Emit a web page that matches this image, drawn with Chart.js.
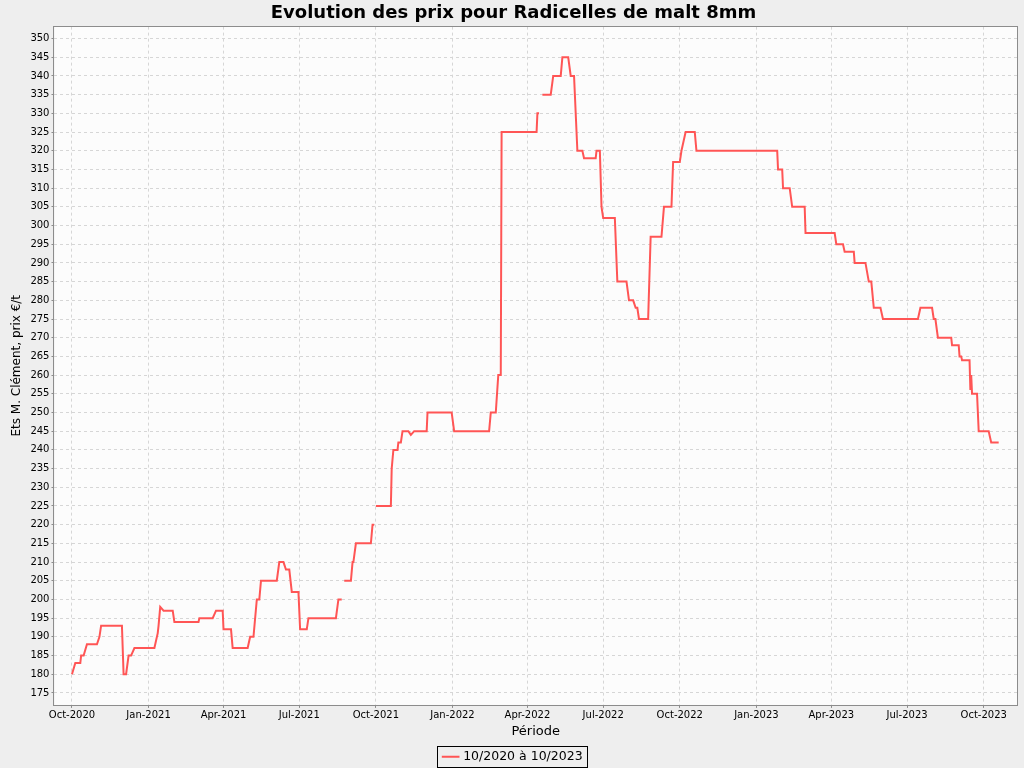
<!DOCTYPE html>
<html>
<head>
<meta charset="utf-8">
<script src="https://cdn.jsdelivr.net/npm/chart.js@4.4.1/dist/chart.umd.min.js"></script>
<style>
  html, body { margin: 0; padding: 0; background: #eeeeee; }
  #wrap { width: 1024px; height: 768px; position: relative; }
</style>
</head>
<body>
<div id="wrap"><canvas id="priceChart" width="1024" height="768"></canvas></div>
<script>
// Observation dates (null price = gap in the series)
const dates = [
  "2020-10-01", "2020-10-05", "2020-10-11", "2020-10-12", "2020-10-15", "2020-10-19", "2020-10-31",
  "2020-11-03", "2020-11-05", "2020-11-30", "2020-12-02", "2020-12-05", "2020-12-08", "2020-12-11",
  "2020-12-15", "2021-01-08", "2021-01-12", "2021-01-13", "2021-01-15", "2021-01-19", "2021-01-30",
  "2021-02-01", "2021-03-02", "2021-03-03", "2021-03-19", "2021-03-23", "2021-03-31", "2021-04-01",
  "2021-04-10", "2021-04-12", "2021-04-30", "2021-05-03", "2021-05-07", "2021-05-11", "2021-05-14",
  "2021-05-16", "2021-06-04", "2021-06-07", "2021-06-12", "2021-06-15", "2021-06-19", "2021-06-22",
  "2021-06-30", "2021-07-02", "2021-07-10", "2021-07-12", "2021-08-14", "2021-08-17", "2021-08-21",
  "2021-08-22",
  "2021-08-24", "2021-09-01", "2021-09-03", "2021-09-04", "2021-09-07", "2021-09-25", "2021-09-27",
  "2021-09-29",
  "2021-09-30",
  "2021-10-01", "2021-10-19", "2021-10-20", "2021-10-22", "2021-10-27", "2021-10-28", "2021-10-31",
  "2021-11-02", "2021-11-09", "2021-11-12", "2021-11-16", "2021-12-01", "2021-12-02", "2021-12-31",
  "2022-01-03", "2022-02-14", "2022-02-16", "2022-02-22", "2022-02-25", "2022-02-28", "2022-03-01",
  "2022-04-12", "2022-04-13", "2022-04-15",
  "2022-04-17",
  "2022-04-19", "2022-04-29", "2022-05-02", "2022-05-11", "2022-05-13", "2022-05-20", "2022-05-23",
  "2022-05-27", "2022-05-31", "2022-06-06", "2022-06-08", "2022-06-22", "2022-06-23", "2022-06-27",
  "2022-06-29", "2022-07-01", "2022-07-15", "2022-07-18", "2022-07-29", "2022-08-01", "2022-08-06",
  "2022-08-09", "2022-08-11", "2022-08-13", "2022-08-24", "2022-08-27", "2022-09-09", "2022-09-12",
  "2022-09-21", "2022-09-23", "2022-10-01", "2022-10-03", "2022-10-05", "2022-10-08", "2022-10-19",
  "2022-10-21", "2023-01-26", "2023-01-27", "2023-02-01", "2023-02-02", "2023-02-10", "2023-02-13",
  "2023-02-28", "2023-03-01", "2023-04-05", "2023-04-07", "2023-04-15", "2023-04-17", "2023-04-28",
  "2023-04-29", "2023-05-12", "2023-05-16", "2023-05-19", "2023-05-22", "2023-05-30", "2023-06-02",
  "2023-07-14", "2023-07-17", "2023-07-31", "2023-08-02", "2023-08-04", "2023-08-07", "2023-08-23",
  "2023-08-24", "2023-09-01", "2023-09-02", "2023-09-04", "2023-09-05", "2023-09-14", "2023-09-15",
  "2023-09-16", "2023-09-17", "2023-09-23", "2023-09-25", "2023-10-07", "2023-10-10", "2023-10-19"
];

// Price in €/t for each date
const prices = [
  180, 183, 183, 185, 185, 188, 188,
  190, 193, 193, 180, 180, 185, 185,
  187, 187, 191, 193, 198, 197, 197,
  194, 194, 195, 195, 197, 197, 192,
  192, 187, 187, 190, 190, 200, 200,
  205, 205, 210, 210, 208, 208, 202,
  202, 192, 192, 195, 195, 200, 200,
  null,
  205, 205, 210, 210, 215, 215, 220,
  220,
  null,
  225, 225, 235, 240, 240, 242, 242,
  245, 245, 244, 245, 245, 250, 250,
  245, 245, 250, 250, 260, 260, 325,
  325, 330, 330,
  null,
  335, 335, 340, 340, 345, 345, 340,
  340, 320, 320, 318, 318, 320, 320,
  305, 302, 302, 285, 285, 280, 280,
  278, 278, 275, 275, 297, 297, 305,
  305, 317, 317, 320, 322, 325, 325,
  320, 320, 315, 315, 310, 310, 305,
  305, 298, 298, 295, 295, 293, 293,
  290, 290, 285, 285, 278, 278, 275,
  275, 278, 278, 275, 275, 270, 270,
  268, 268, 265, 265, 264, 264, 256,
  260, 255, 255, 245, 245, 242, 242
];

// Quarterly tick positions and their labels
const tickDates = [
  "2020-10-01", "2021-01-01", "2021-04-01", "2021-07-01", "2021-10-01", "2022-01-01", "2022-04-01",
  "2022-07-01", "2022-10-01", "2023-01-01", "2023-04-01", "2023-07-01", "2023-10-01"
];
const tickLabels = [
  "Oct-2020", "Jan-2021", "Apr-2021", "Jul-2021", "Oct-2021", "Jan-2022", "Apr-2022",
  "Jul-2022", "Oct-2022", "Jan-2023", "Apr-2023", "Jul-2023", "Oct-2023"
];

const seriesLabel = "10/2020 à 10/2023";

function toTime(d) {
  const p = d.split("-").map(Number);
  return Date.UTC(p[0], p[1] - 1, p[2]);
}

// Plot background, plot border and a framed legend
const frame = {
  id: "frame",
  beforeDraw(chart) {
    const c = chart.ctx, a = chart.chartArea;
    c.save();
    c.fillStyle = "#eeeeee";
    c.fillRect(0, 0, chart.width, chart.height);
    c.fillStyle = "#fcfcfc";
    c.fillRect(a.left, a.top, a.right - a.left, a.bottom - a.top);
    c.restore();
  },
  afterDraw(chart) {
    const c = chart.ctx, a = chart.chartArea;
    c.save();
    c.strokeStyle = "#8c8c8c";
    c.lineWidth = 1;
    c.strokeRect(Math.round(a.left) - 0.5, Math.round(a.top) - 0.5,
      Math.round(a.right - a.left) + 1, Math.round(a.bottom - a.top) + 1);
    const box = chart.legend.legendHitBoxes[0];
    if (box) {
      c.strokeStyle = "#000000";
      c.strokeRect(Math.round(box.left) - 6.5, Math.round(box.top) - 4.5,
        Math.round(box.width) + 12, Math.round(box.height) + 8);
    }
    c.restore();
  }
};

const points = dates.map((d, i) => ({ x: toTime(d), y: prices[i] }));

new Chart(document.getElementById("priceChart"), {
  type: "line",
  data: {
    datasets: [{
      label: seriesLabel,
      data: points,
      borderColor: "#ff5555",
      backgroundColor: "#ff5555",
      borderWidth: 2,
      pointRadius: 0,
      tension: 0,
      spanGaps: false
    }]
  },
  options: {
    responsive: false,
    animation: false,
    devicePixelRatio: 1,
    layout: { padding: { left: 10, right: 7, top: 0, bottom: -5 } },
    plugins: {
      title: {
        display: true,
        text: "Evolution des prix pour Radicelles de malt 8mm",
        color: "#000000",
        font: { family: "DejaVu Sans", size: 18, weight: "bold" },
        padding: { top: 3, bottom: 2 }
      },
      legend: {
        position: "bottom",
        labels: {
          color: "#000000",
          font: { family: "DejaVu Sans", size: 12.5 },
          usePointStyle: true,
          pointStyle: "line",
          boxWidth: 15,
          padding: 0
        }
      },
      tooltip: { enabled: false }
    },
    scales: {
      x: {
        type: "linear",
        min: toTime("2020-09-10"),
        max: toTime("2023-11-10"),
        afterBuildTicks(scale) {
          scale.ticks = tickDates.map(d => ({ value: toTime(d) }));
        },
        ticks: {
          color: "#000000",
          font: { family: "DejaVu Sans", size: 10 },
          padding: 2,
          maxRotation: 0,
          autoSkip: false,
          callback: (v, i) => tickLabels[i]
        },
        grid: { color: "#d6d6d6", tickColor: "#8c8c8c", tickLength: 3 },
        border: { display: false, dash: [3, 3] },
        title: {
          display: true,
          text: "Période",
          color: "#000000",
          font: { family: "DejaVu Sans", size: 13 },
          padding: { top: 0, bottom: 11 }
        }
      },
      y: {
        min: 171.8,
        max: 353.2,
        afterBuildTicks(scale) {
          const t = [];
          for (let v = 175; v <= 350; v += 5) t.push({ value: v });
          scale.ticks = t;
        },
        ticks: {
          color: "#000000",
          font: { family: "DejaVu Sans", size: 10 },
          padding: 2,
          autoSkip: false
        },
        grid: { color: "#d6d6d6", tickColor: "#8c8c8c", tickLength: 3 },
        border: { display: false, dash: [3, 3] },
        title: {
          display: true,
          text: "Ets M. Clément, prix €/t",
          color: "#000000",
          font: { family: "DejaVu Sans", size: 12 },
          padding: { top: 0, bottom: 4 }
        }
      }
    }
  },
  plugins: [frame]
});
</script>
</body>
</html>
